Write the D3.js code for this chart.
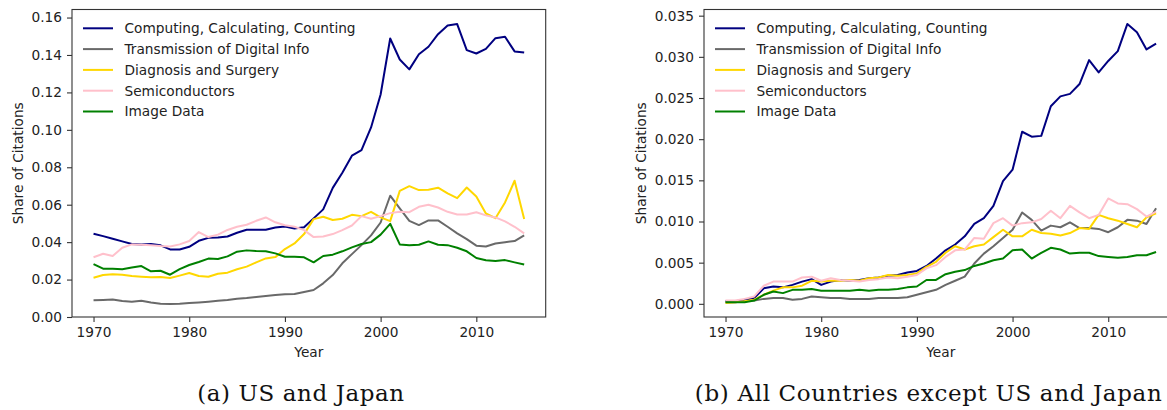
<!DOCTYPE html>
<html>
<head>
<meta charset="utf-8">
<script src="https://cdn.jsdelivr.net/npm/d3@7"></script>
<style>
    body { margin: 0; background: #fff; }
    svg { display: block; overflow: hidden; }
    text { font-family: "DejaVu Sans", sans-serif; fill: #222; }
    .caption { font-family: "DejaVu Serif", serif; fill: #111; }
</style>
</head>
<body>
<div id="chart"></div>
<script>
var years = d3.range(1970, 2016);
var xTicks = [1970, 1980, 1990, 2000, 2010];
var usTicks = [0, 0.02, 0.04, 0.06, 0.08, 0.10, 0.12, 0.14, 0.16];
var rowTicks = [0, 0.005, 0.010, 0.015, 0.020, 0.025, 0.030, 0.035];

var seriesNames = ['Computing, Calculating, Counting', 'Transmission of Digital Info',
    'Diagnosis and Surgery', 'Semiconductors', 'Image Data'];
var seriesColors = ['#000080', '#696969', '#ffd700', '#ffc0cb', '#008000'];

// (a) US and Japan
var usComputing = [0.0445,0.0432,0.0418,0.0404,0.0390,0.0388,0.0390,0.0383,0.0361,0.0361,
    0.0375,0.0407,0.0423,0.0425,0.0430,0.0450,0.0466,0.0466,0.0466,0.0478,
    0.0484,0.0473,0.0479,0.0527,0.0575,0.0690,0.0771,0.0862,0.0892,0.1013,
    0.1189,0.1488,0.1376,0.1323,0.1404,0.1444,0.1511,0.1558,0.1565,0.1426,
    0.1408,0.1433,0.1490,0.1497,0.1419,0.1413];
var usTransmission = [0.0089,0.0091,0.0094,0.0085,0.0082,0.0087,0.0078,0.0071,0.0069,0.0071,
    0.0075,0.0078,0.0082,0.0087,0.0091,0.0098,0.0101,0.0107,0.0112,0.0117,
    0.0121,0.0123,0.0134,0.0144,0.0180,0.0224,0.0287,0.0336,0.0384,0.0436,
    0.0505,0.0648,0.0580,0.0514,0.0491,0.0516,0.0516,0.0482,0.0447,0.0416,
    0.0381,0.0377,0.0393,0.0400,0.0406,0.0436];
var usDiagnosis = [0.0210,0.0224,0.0228,0.0226,0.0219,0.0215,0.0212,0.0214,0.0208,0.0221,
    0.0235,0.0219,0.0215,0.0231,0.0237,0.0255,0.0269,0.0292,0.0313,0.0320,
    0.0363,0.0393,0.0443,0.0523,0.0536,0.0518,0.0525,0.0546,0.0539,0.0562,
    0.0532,0.0512,0.0674,0.0699,0.0678,0.0680,0.0691,0.0660,0.0635,0.0692,
    0.0644,0.0553,0.0528,0.0612,0.0728,0.0523];
var usSemiconductors = [0.0319,0.0338,0.0326,0.0370,0.0388,0.0386,0.0384,0.0379,0.0377,0.0388,
    0.0406,0.0454,0.0427,0.0440,0.0465,0.0482,0.0493,0.0514,0.0532,0.0506,
    0.0490,0.0482,0.0464,0.0427,0.0430,0.0443,0.0464,0.0489,0.0539,0.0525,
    0.0539,0.0555,0.0562,0.0560,0.0589,0.0600,0.0585,0.0562,0.0548,0.0548,
    0.0560,0.0543,0.0532,0.0511,0.0482,0.0447];
var usImage = [0.0283,0.0258,0.0258,0.0255,0.0265,0.0272,0.0244,0.0247,0.0226,0.0256,
    0.0278,0.0294,0.0312,0.0310,0.0324,0.0349,0.0356,0.0352,0.0351,0.0340,
    0.0322,0.0322,0.0319,0.0292,0.0326,0.0333,0.0351,0.0372,0.0390,0.0400,
    0.0440,0.0498,0.0388,0.0384,0.0386,0.0404,0.0386,0.0384,0.0370,0.0351,
    0.0315,0.0303,0.0299,0.0304,0.0292,0.0280];

// (b) All Countries except US and Japan
var rowComputing = [0.0003,0.0003,0.0005,0.0007,0.0019,0.0021,0.0020,0.0023,0.0027,0.0030,
    0.0023,0.0027,0.0029,0.0028,0.0029,0.0031,0.0032,0.0034,0.0035,0.0038,
    0.0040,0.0046,0.0055,0.0065,0.0072,0.0082,0.0097,0.0104,0.0119,0.0149,
    0.0163,0.0209,0.0203,0.0204,0.0240,0.0252,0.0255,0.0267,0.0296,0.0281,
    0.0295,0.0307,0.0340,0.0330,0.0309,0.0316];
var rowTransmission = [0.0002,0.0002,0.0003,0.0004,0.0006,0.0007,0.0007,0.0005,0.0006,0.0009,
    0.0008,0.0007,0.0007,0.0006,0.0006,0.0006,0.0007,0.0007,0.0007,0.0008,
    0.0011,0.0014,0.0017,0.0023,0.0028,0.0033,0.0049,0.0061,0.0070,0.0080,
    0.0090,0.0111,0.0102,0.0089,0.0095,0.0093,0.0099,0.0092,0.0092,0.0091,
    0.0087,0.0093,0.0102,0.0101,0.0097,0.0116];
var rowDiagnosis = [0.0001,0.0002,0.0003,0.0005,0.0011,0.0016,0.0020,0.0020,0.0022,0.0028,
    0.0027,0.0028,0.0028,0.0029,0.0028,0.0031,0.0032,0.0035,0.0034,0.0035,
    0.0037,0.0045,0.0051,0.0062,0.0070,0.0066,0.0070,0.0072,0.0081,0.0090,
    0.0082,0.0082,0.0090,0.0086,0.0085,0.0083,0.0086,0.0092,0.0091,0.0108,
    0.0104,0.0101,0.0097,0.0093,0.0105,0.0110];
var rowSemiconductors = [0.0004,0.0004,0.0006,0.0009,0.0022,0.0027,0.0027,0.0027,0.0032,0.0033,
    0.0028,0.0031,0.0029,0.0028,0.0027,0.0029,0.0030,0.0032,0.0031,0.0033,
    0.0035,0.0043,0.0047,0.0057,0.0065,0.0066,0.0080,0.0079,0.0098,0.0104,
    0.0095,0.0098,0.0099,0.0103,0.0113,0.0104,0.0119,0.0111,0.0104,0.0108,
    0.0128,0.0122,0.0121,0.0115,0.0106,0.0112];
var rowImage = [0.0002,0.0002,0.0002,0.0004,0.0011,0.0015,0.0013,0.0017,0.0017,0.0018,
    0.0016,0.0016,0.0016,0.0016,0.0017,0.0016,0.0017,0.0017,0.0018,0.0020,
    0.0021,0.0029,0.0029,0.0036,0.0039,0.0041,0.0046,0.0049,0.0053,0.0055,
    0.0065,0.0066,0.0055,0.0062,0.0068,0.0066,0.0061,0.0062,0.0062,0.0058,
    0.0057,0.0056,0.0057,0.0059,0.0059,0.0063];

var width = 1167, height = 410;

var svg = d3.select('#chart')
    .append('svg')
    .attr('width', width)
    .attr('height', height);

createPanel(svg, {
    left: 72, right: 545.7, top: 9.5, bottom: 317,
    yDomain: [0, 0.1643], yTicks: usTicks, yFormat: d3.format('.2f'),
    series: [usComputing, usTransmission, usDiagnosis, usSemiconductors, usImage],
    ylabelX: 17.5,
    caption: '(a) US and Japan', captionX: 300.7, captionLen: 207
});

createPanel(svg, {
    left: 704, right: 1177.6, top: 9.5, bottom: 317,
    yDomain: [-0.0016, 0.03575], yTicks: rowTicks, yFormat: d3.format('.3f'),
    series: [rowComputing, rowTransmission, rowDiagnosis, rowSemiconductors, rowImage],
    ylabelX: 640.5,
    caption: '(b) All Countries except US and Japan', captionX: 928.3, captionLen: 467
});

function createPanel(svg, opt) {
    var xScale = d3.scaleLinear()
        .domain([1967.75, 2017.25])
        .range([opt.left, opt.right]);
    var yScale = d3.scaleLinear()
        .domain(opt.yDomain)
        .range([opt.bottom, opt.top]);

    var line = d3.line()
        .x(d => xScale(d[0]))
        .y(d => yScale(d[1]));

    var g = svg.append('g');

    // lines first, spines on top
    opt.series.forEach(function(values, i) {
        g.append('path')
            .datum(years.map((yr, j) => [yr, values[j]]))
            .attr('fill', 'none')
            .attr('stroke', seriesColors[i])
            .attr('stroke-width', 2)
            .attr('stroke-linejoin', 'round')
            .attr('d', line);
    });

    g.append('rect')
        .attr('x', opt.left)
        .attr('y', opt.top)
        .attr('width', opt.right - opt.left)
        .attr('height', opt.bottom - opt.top)
        .attr('fill', 'none')
        .attr('stroke', '#333')
        .attr('stroke-width', 1.1);

    var xAxis = g.append('g')
        .attr('transform', `translate(0, ${opt.bottom})`)
        .call(d3.axisBottom(xScale).tickValues(xTicks).tickFormat(d3.format('d')).tickSize(5).tickPadding(5));
    var yAxis = g.append('g')
        .attr('transform', `translate(${opt.left}, 0)`)
        .call(d3.axisLeft(yScale).tickValues(opt.yTicks).tickFormat(opt.yFormat).tickSize(5).tickPadding(5));

    [xAxis, yAxis].forEach(function(ax) {
        ax.select('.domain').remove();
        ax.selectAll('line').attr('stroke', '#333').attr('stroke-width', 1.1);
        ax.selectAll('text')
            .style('font-size', '13.7px')
            .style('font-family', '"DejaVu Sans", sans-serif')
            .attr('fill', '#222');
    });

    g.append('text')
        .attr('x', (opt.left + opt.right) / 2)
        .attr('y', 357)
        .attr('text-anchor', 'middle')
        .style('font-size', '13.7px')
        .text('Year');

    g.append('text')
        .attr('transform', `translate(${opt.ylabelX + 5}, ${(opt.top + opt.bottom) / 2}) rotate(-90)`)
        .attr('text-anchor', 'middle')
        .style('font-size', '13.7px')
        .text('Share of Citations');

    // legend, no frame
    var legend = g.append('g');
    seriesNames.forEach(function(name, i) {
        var ly = 28.3 + i * 20.8;
        legend.append('line')
            .attr('x1', opt.left + 11).attr('x2', opt.left + 41)
            .attr('y1', ly).attr('y2', ly)
            .attr('stroke', seriesColors[i])
            .attr('stroke-width', 2);
        legend.append('text')
            .attr('x', opt.left + 52.5)
            .attr('y', ly)
            .attr('dy', '0.36em')
            .style('font-size', '13.7px')
            .text(name);
    });

    svg.append('text')
        .attr('class', 'caption')
        .attr('x', opt.captionX)
        .attr('y', 401)
        .attr('text-anchor', 'middle')
        .attr('textLength', opt.captionLen)
        .attr('lengthAdjust', 'spacing')
        .style('font-size', '23px')
        .text(opt.caption);
}
</script>
</body>
</html>
